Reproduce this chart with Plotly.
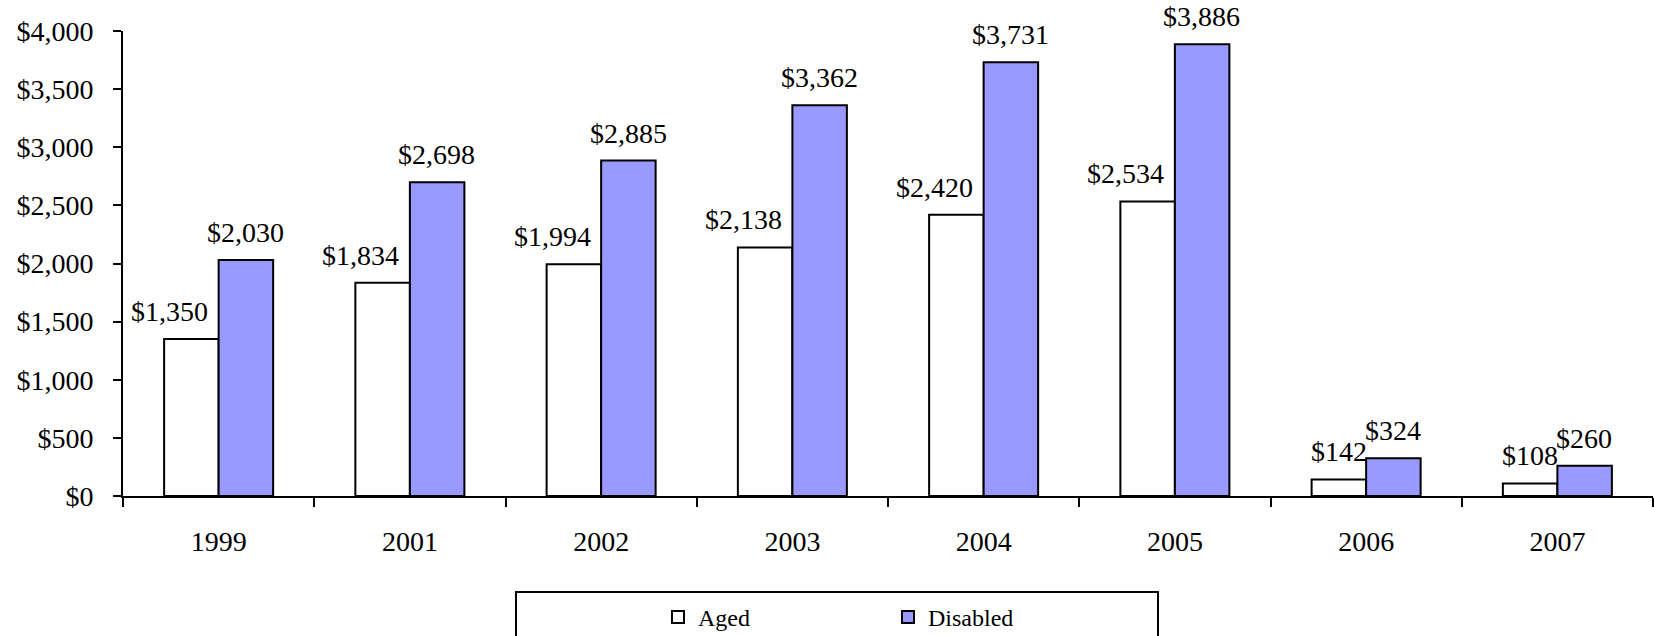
import plotly.graph_objects as go

years = ["1999", "2001", "2002", "2003", "2004", "2005", "2006", "2007"]
aged = [1350, 1834, 1994, 2138, 2420, 2534, 142, 108]
disabled = [2030, 2698, 2885, 3362, 3731, 3886, 324, 260]

FONT = "Liberation Serif, Times New Roman, serif"
PURPLE = "#9999FF"

fig = go.Figure()
fig.add_trace(go.Bar(
    x=years, y=aged, name="Aged",
    marker=dict(color="white", line=dict(color="black", width=2)),
))
fig.add_trace(go.Bar(
    x=years, y=disabled, name="Disabled",
    marker=dict(color=PURPLE, line=dict(color="black", width=2)),
))

# value labels above each bar (category index used for x, since the
# year names look numeric); Aged labels on the tall groups sit to the left
bar_px = 54
for i in range(len(years)):
    shift_aged = -bar_px / 2 - (22 if aged[i] > 1000 else 0)
    fig.add_annotation(x=i, y=aged[i], xref="x", yref="y", text=f"${aged[i]:,}",
                       showarrow=False, xshift=shift_aged, yanchor="bottom", yshift=10,
                       font=dict(family=FONT, size=28, color="black"))
    fig.add_annotation(x=i, y=disabled[i], xref="x", yref="y", text=f"${disabled[i]:,}",
                       showarrow=False, xshift=bar_px / 2, yanchor="bottom", yshift=10,
                       font=dict(family=FONT, size=28, color="black"))

fig.update_layout(
    width=1654, height=636,
    margin=dict(l=123, r=1, t=31, b=140, autoexpand=False),
    paper_bgcolor="white", plot_bgcolor="white",
    barmode="group", bargap=0.43, bargroupgap=0,
    font=dict(family=FONT, size=28, color="black"),
    showlegend=True,
    legend=dict(orientation="h", x=0.5, xanchor="center", y=-(595 - 496) / 465, yanchor="top",
                font=dict(family=FONT, size=24, color="black"),
                entrywidth=185, entrywidthmode="pixels",
                bgcolor="rgba(0,0,0,0)", borderwidth=0),
    xaxis=dict(
        type="category", tickson="boundaries", ticks="outside", ticklen=9, tickwidth=2,
        tickcolor="black", showline=True, linecolor="black", linewidth=2,
        showgrid=False, ticklabelstandoff=19, tickangle=0, automargin=False,
        range=[-0.5, 7.5],
        tickfont=dict(family=FONT, size=28, color="black"),
    ),
    yaxis=dict(
        range=[0, 4000], tickvals=[0, 500, 1000, 1500, 2000, 2500, 3000, 3500, 4000],
        tickformat="$,d", ticks="outside", ticklen=8, tickwidth=2, tickcolor="black",
        showline=True, linecolor="black", linewidth=2, showgrid=False, zeroline=False,
        ticklabelstandoff=14, automargin=False,
        tickfont=dict(family=FONT, size=28, color="black"),
    ),
)

# legend frame running past the bottom edge
fig.add_shape(type="rect", xref="paper", yref="paper",
              x0=(516 - 123) / 1530, x1=(1158 - 123) / 1530,
              y0=-0.5, y1=-(592 - 496) / 465,
              line=dict(color="black", width=2), fillcolor="rgba(0,0,0,0)")

fig.write_html("out.html")
